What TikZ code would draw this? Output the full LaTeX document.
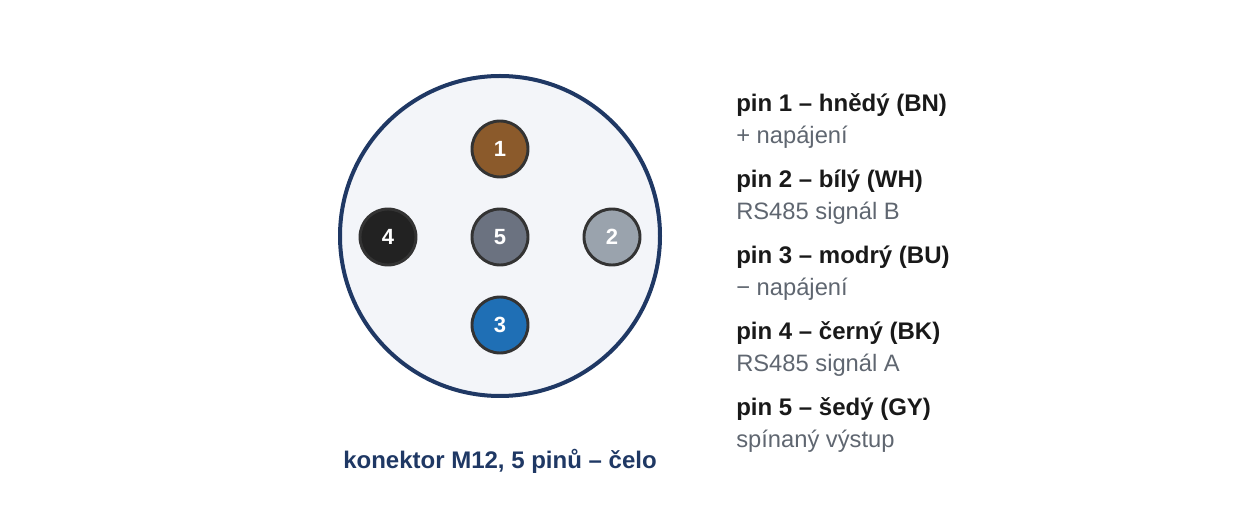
\documentclass[tikz,border=0pt]{standalone}
\usepackage{fontspec}
\setmainfont{Liberation Sans}
\begin{document}
\begin{tikzpicture}[x=0.75pt,y=-0.75pt,
  pin/.style={circle,draw=black!80,line width=2.2pt,minimum size=42pt,inner sep=0pt,text=white,font=\fontsize{16.5}{18}\selectfont\bfseries},
  head/.style={anchor=west,text=black!90,font=\fontsize{18}{20}\selectfont\bfseries,inner sep=0pt},
  sub/.style={anchor=west,text=subgray,font=\fontsize{17.8}{20}\selectfont,inner sep=0pt}]
\definecolor{navy}{HTML}{1F3864}
\definecolor{subgray}{HTML}{5F6670}
\definecolor{bodyfill}{HTML}{F3F5F9}
\useasboundingbox (0,0) rectangle (1240,520);
\node[circle,draw=navy,fill=bodyfill,line width=3pt,minimum size=240pt,inner sep=0pt] (body) at (500,236) {};
\node[pin,fill={rgb,255:red,139;green,90;blue,43}] (p1) at (500,149) {1};
\node[pin,fill={rgb,255:red,154;green,163;blue,173}] (p2) at (612,237) {2};
\node[pin,fill={rgb,255:red,31;green,111;blue,181}] (p3) at (500,325) {3};
\node[pin,fill={rgb,255:red,34;green,34;blue,34}] (p4) at (388,237) {4};
\node[pin,fill={rgb,255:red,107;green,114;blue,128}] (p5) at (500,237) {5};
\node[text=navy,font=\fontsize{18}{20}\selectfont\bfseries] (cap) at (500,461) {konektor M12, 5 pinů – čelo};
\node[head] (h1) at (736,105) {pin 1 – hnědý (BN)};
\node[sub] (s1) at (736,137) {+ napájení};
\node[head] (h2) at (736,181) {pin 2 – bílý (WH)};
\node[sub] (s2) at (736,213) {RS485 signál B};
\node[head] (h3) at (736,257) {pin 3 – modrý (BU)};
\node[sub] (s3) at (736,289) {− napájení};
\node[head] (h4) at (736,333) {pin 4 – černý (BK)};
\node[sub] (s4) at (736,365) {RS485 signál A};
\node[head] (h5) at (736,409) {pin 5 – šedý (GY)};
\node[sub] (s5) at (736,441) {spínaný výstup};
\end{tikzpicture}
\end{document}
